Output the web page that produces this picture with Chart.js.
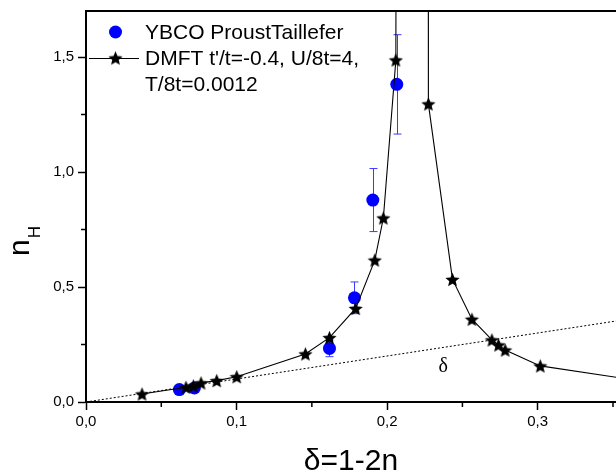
<!DOCTYPE html>
<html>
<head>
<meta charset="utf-8">
<script src="https://cdn.jsdelivr.net/npm/chart.js@4.4.1/dist/chart.umd.min.js"></script>
<style>
html,body{margin:0;padding:0;background:#fff;}
#wrap{width:616px;height:472px;position:relative;}
</style>
</head>
<body>
<div id="wrap"><canvas id="c" width="616" height="472"></canvas></div>
<script>
// ---- data ----
const dmftX = [0.0372, 0.0664, 0.0713, 0.0764, 0.0868, 0.1001, 0.1457, 0.1617, 0.1791, 0.1918, 0.1975, 0.2058, 0.2062, 0.2165, 0.2272, 0.2274, 0.2434, 0.2563, 0.2696, 0.2740, 0.2784, 0.3017, 0.40];
const dmftY = [0.035, 0.064, 0.070, 0.083, 0.093, 0.110, 0.209, 0.280, 0.407, 0.617, 0.800, 1.487, 3.5, 6.0, 3.5, 1.296, 0.533, 0.360, 0.270, 0.248, 0.226, 0.157, 0.060];
const ybcoX = [0.062, 0.072, 0.1617, 0.1783, 0.1905, 0.2064];
const ybcoY = [0.054, 0.061, 0.233, 0.453, 0.878, 1.381];
const ybcoErr = [0, 0, 0.036, 0.069, 0.137, 0.216];
const refX = [0, 0.40];
const refY = [0, 0.40];
const xMajorTicks = [0, 0.1, 0.2, 0.3];
const xMinorTicks = [0.05, 0.15, 0.25, 0.35];
const yMajorTicks = [0, 0.5, 1.0, 1.5];
const yMinorTicks = [0.25, 0.75, 1.25];
const legendLabels = ['YBCO ProustTaillefer', "DMFT t'/t=-0.4, U/8t=4,", 'T/8t=0.0012'];
const xTitle = 'δ=1-2n';
const yTitleMain = 'n';
const yTitleSub = 'H';
const annotationText = 'δ';
const annotationPos = [0.2373, 0.155];

const SANS = "'Liberation Sans', Arial, sans-serif";
const SERIF = "'Liberation Serif', 'Times New Roman', serif";

function makeStar(r){
  const s = Math.ceil(r*2+2);
  const c = document.createElement('canvas');
  c.width = s; c.height = s;
  const g = c.getContext('2d');
  g.translate(s/2, s/2 + r*0.1);
  g.beginPath();
  for(let i=0;i<10;i++){
    const rad = (i%2) ? r*0.45 : r;
    const a = -Math.PI/2 + i*Math.PI/5;
    g.lineTo(rad*Math.cos(a), rad*Math.sin(a));
  }
  g.closePath();
  g.fillStyle = '#000';
  g.fill();
  return c;
}
const starImg = makeStar(7.5);

const toPts = (xs, ys) => xs.map((x,i)=>({x:x, y:ys[i]}));
const fmt = v => v.toFixed(1).replace('.', ',');

const overlay = {
  id: 'overlay',
  beforeDatasetsDraw(chart){
    const {ctx, scales:{x, y}} = chart;
    ctx.save();
    ctx.strokeStyle = '#3a3aff';
    ctx.lineWidth = 1;
    ybcoX.forEach((vx,i)=>{
      const e = ybcoErr[i];
      if(!e) return;
      const px = Math.round(x.getPixelForValue(vx)) + 0.5;
      const p1 = y.getPixelForValue(ybcoY[i] + e);
      const p2 = y.getPixelForValue(ybcoY[i] - e);
      ctx.beginPath();
      ctx.moveTo(px, p1); ctx.lineTo(px, p2);
      ctx.moveTo(px-4, p1); ctx.lineTo(px+4, p1);
      ctx.moveTo(px-4, p2); ctx.lineTo(px+4, p2);
      ctx.stroke();
    });
    ctx.restore();
  },
  afterDraw(chart){
    const {ctx, chartArea:a, scales:{x, y}} = chart;
    ctx.save();
    // top frame
    ctx.strokeStyle = '#000';
    ctx.lineWidth = 2;
    ctx.beginPath();
    ctx.moveTo(a.left-1, a.top); ctx.lineTo(a.right, a.top);
    ctx.stroke();
    // minor ticks
    ctx.lineWidth = 1.5;
    ctx.beginPath();
    xMinorTicks.forEach(v=>{
      const px = x.getPixelForValue(v);
      ctx.moveTo(px, a.bottom); ctx.lineTo(px, a.bottom+5);
    });
    yMinorTicks.forEach(v=>{
      const py = y.getPixelForValue(v);
      ctx.moveTo(a.left, py); ctx.lineTo(a.left-5, py);
    });
    ctx.stroke();

    ctx.fillStyle = '#000';
    // x title
    ctx.font = '30px ' + SANS;
    ctx.textAlign = 'center';
    ctx.textBaseline = 'alphabetic';
    ctx.fillText(xTitle, 351, 470);
    // y title
    ctx.save();
    ctx.translate(29, 256);
    ctx.rotate(-Math.PI/2);
    ctx.textAlign = 'left';
    ctx.font = '30px ' + SANS;
    ctx.fillText(yTitleMain, 0, 0);
    const w = ctx.measureText(yTitleMain).width;
    ctx.font = '17px ' + SANS;
    ctx.fillText(yTitleSub, w + 1, 11);
    ctx.restore();
    // annotation
    ctx.font = '20px ' + SERIF;
    ctx.textAlign = 'center';
    ctx.textBaseline = 'middle';
    ctx.fillText(annotationText, x.getPixelForValue(annotationPos[0]), y.getPixelForValue(annotationPos[1]));
    // legend
    ctx.font = '21px ' + SANS;
    ctx.textAlign = 'left';
    ctx.textBaseline = 'middle';
    ctx.fillStyle = '#0000ff';
    ctx.beginPath(); ctx.arc(115.5, 32, 6.5, 0, Math.PI*2); ctx.fill();
    ctx.strokeStyle = '#000'; ctx.lineWidth = 1;
    ctx.beginPath(); ctx.moveTo(89, 58.5); ctx.lineTo(139, 58.5); ctx.stroke();
    ctx.drawImage(starImg, 115.5 - starImg.width/2, 58 - starImg.height/2);
    ctx.fillStyle = '#000';
    ctx.fillText(legendLabels[0], 145, 33);
    ctx.fillText(legendLabels[1], 145, 59);
    ctx.fillText(legendLabels[2], 145, 85);
    ctx.restore();
  }
};

new Chart(document.getElementById('c'), {
  type: 'scatter',
  data: {
    datasets: [
      {
        label: legendLabels[1],
        data: toPts(dmftX, dmftY),
        showLine: true,
        borderColor: '#000',
        borderWidth: 1.1,
        pointStyle: starImg,
        pointRadius: 7,
        pointHoverRadius: 7,
        tension: 0,
        order: 1
      },
      {
        label: legendLabels[0],
        data: toPts(ybcoX, ybcoY),
        showLine: false,
        pointStyle: 'circle',
        pointRadius: 6.5,
        pointHoverRadius: 6.5,
        backgroundColor: '#0000ff',
        borderWidth: 0,
        order: 2
      },
      {
        label: 'δ',
        data: toPts(refX, refY),
        showLine: true,
        borderColor: '#000',
        borderWidth: 1,
        borderDash: [2, 2],
        pointRadius: 0,
        order: 3
      }
    ]
  },
  options: {
    responsive: false,
    animation: false,
    devicePixelRatio: 1,
    layout: { autoPadding: false, padding: { top: 11, right: 0, left: 0, bottom: 0 } },
    plugins: { legend: { display: false }, tooltip: { enabled: false } },
    scales: {
      x: {
        type: 'linear',
        min: 0, max: 0.352,
        afterFit: s => { s.height = 70; s.paddingLeft = 0; s.paddingRight = 0; },
        afterBuildTicks: s => { s.ticks = xMajorTicks.map(v => ({value: v})); },
        ticks: {
          callback: v => fmt(v),
          autoSkip: false, maxRotation: 0,
          color: '#000',
          font: { family: SANS, size: 15 },
          padding: 3
        },
        grid: { drawOnChartArea: false, drawTicks: true, tickLength: 8, tickColor: '#000', tickWidth: 1.5 },
        border: { display: true, color: '#000', width: 2 }
      },
      y: {
        type: 'linear',
        min: 0, max: 1.70,
        afterFit: s => { s.width = 86; s.paddingTop = 0; s.paddingBottom = 0; },
        afterBuildTicks: s => { s.ticks = yMajorTicks.map(v => ({value: v})); },
        ticks: {
          callback: v => fmt(v),
          autoSkip: false,
          color: '#000',
          font: { family: SANS, size: 15 },
          padding: 4
        },
        grid: { drawOnChartArea: false, drawTicks: true, tickLength: 8, tickColor: '#000', tickWidth: 1.5 },
        border: { display: true, color: '#000', width: 2 }
      }
    }
  },
  plugins: [overlay]
});
</script>
</body>
</html>
